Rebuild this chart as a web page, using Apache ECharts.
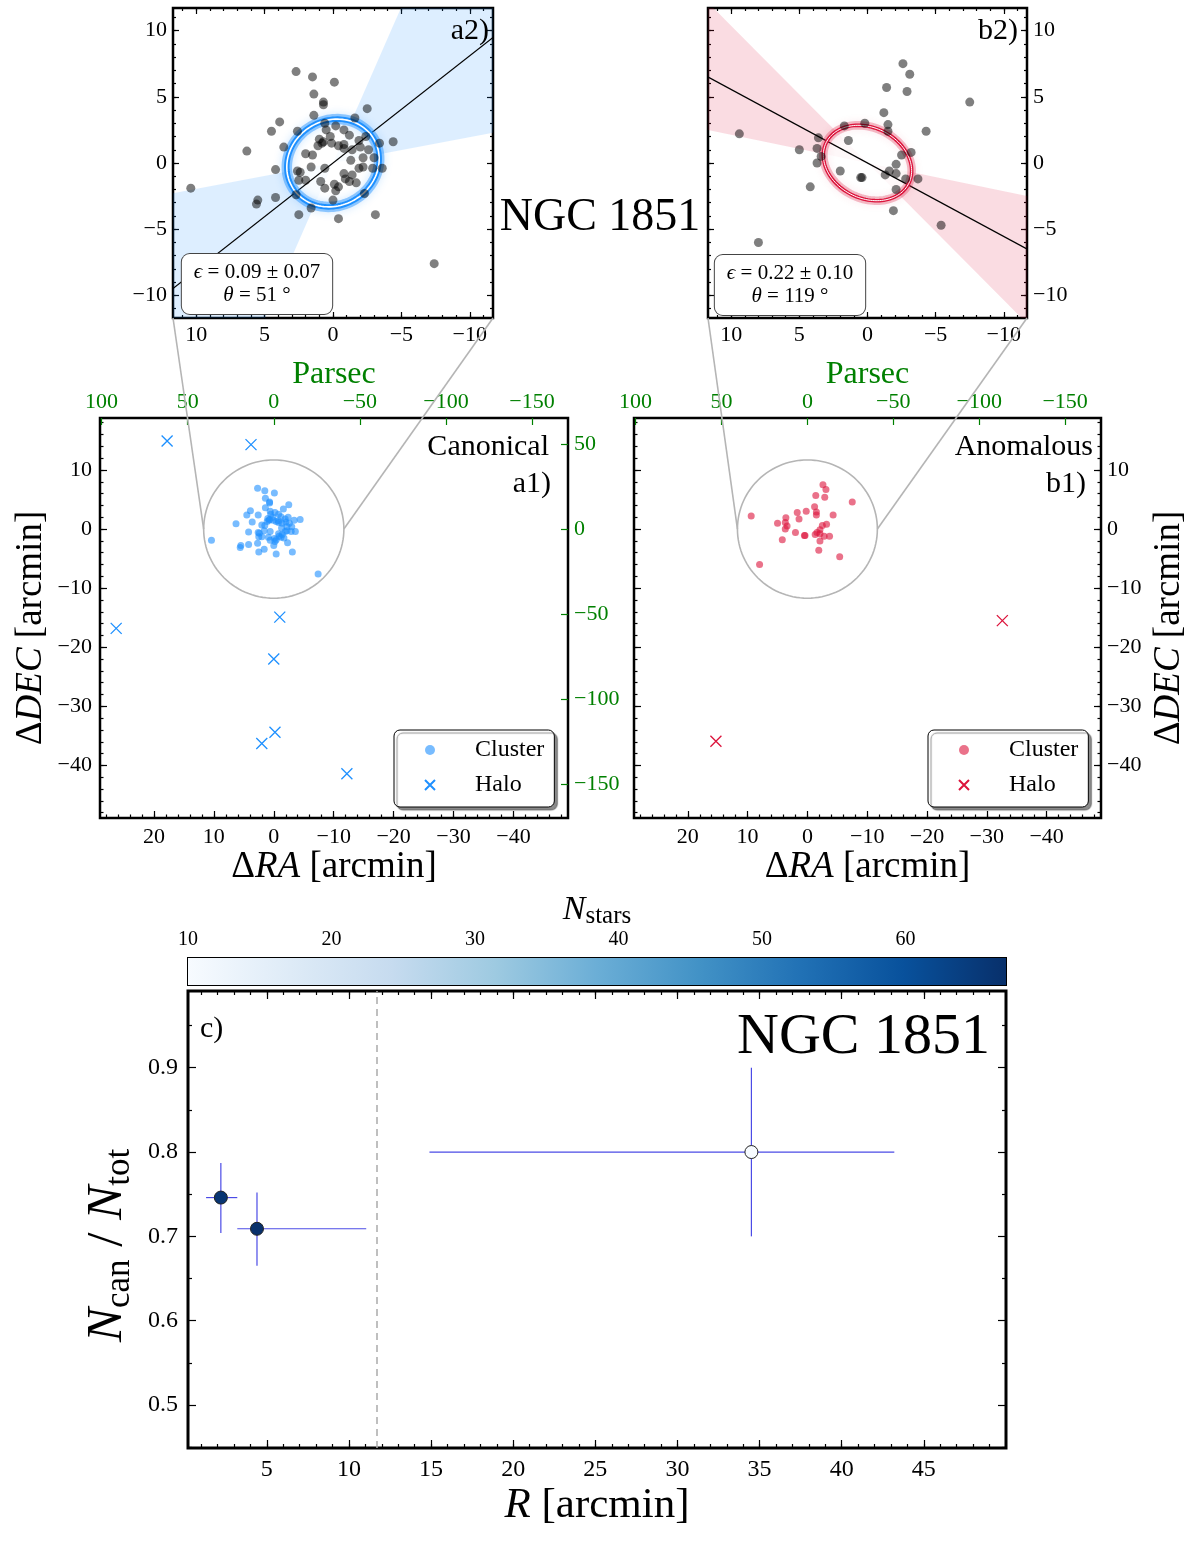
<!DOCTYPE html>
<html><head><meta charset="utf-8">
<script src="https://cdn.jsdelivr.net/npm/echarts@6/dist/echarts.min.js"></script>
<style>html,body{margin:0;padding:0;background:#fff}#c{width:1200px;height:1548px}</style>
</head><body><div id="c"></div><script>
// ================= DATA =================
// Cluster members (ΔRA, ΔDEC) in arcmin
const canonicalCluster = [[2.7,6.9],[1.5,6.5],[-0.1,6.1],[1.4,5.2],[0.7,4.6],[0.7,4.4],[-2.5,4.1],[1.4,3.6],[3.9,3.1],[0.6,3.0],[4.5,2.4],[2.6,2.4],[-1.6,3.4],[-0.2,2.8],[-0.8,2.5],[0.5,2.5],[-1.2,2.1],[-2.4,2.0],[-3.4,1.5],[-4.4,1.6],[3.6,1.2],[6.3,0.9],[1.0,1.8],[0.2,2.0],[0.8,1.5],[0.1,1.5],[1.1,1.3],[-0.4,1.3],[-0.8,1.4],[-1.9,1.7],[-2.0,1.2],[1.5,0.6],[2.0,0.7],[-0.8,1.1],[-1.4,1.0],[-2.6,1.0],[-1.3,0.2],[-2.2,0.4],[-3.0,0.4],[1.6,-0.3],[0.6,-0.4],[-1.9,-0.4],[4.2,-0.5],[2.6,-0.6],[2.4,-0.7],[-0.8,-0.8],[-1.4,-0.9],[-2.2,-0.3],[-3.6,-0.4],[-2.9,-0.4],[2.0,-1.3],[2.5,-1.3],[0.9,-1.4],[-0.1,-1.6],[-0.4,-1.8],[-0.9,-1.2],[-1.2,-1.4],[-1.7,-1.5],[0.6,-1.9],[-0.2,-2.1],[-2.3,-2.3],[2.7,-2.4],[4.2,-2.6],[5.5,-2.8],[5.6,-3.1],[0.0,-2.8],[1.6,-3.4],[2.5,-3.9],[-0.4,-4.2],[-3.1,-3.9],[10.4,-1.9],[-7.4,-7.6],[0.7,1.6]];
const canonicalHalo = [[17.8,14.9],[3.8,14.3],[26.3,-16.8],[-1.0,-14.9],[0.0,-22.0],[-0.2,-34.4],[2.0,-36.3],[-12.2,-41.4]];
const anomalousCluster = [[-2.6,7.5],[-3.1,6.7],[-1.4,5.7],[-2.9,5.4],[-7.5,4.6],[-1.2,3.8],[0.2,3.0],[-1.5,2.9],[1.7,2.8],[-1.5,2.4],[-4.3,2.4],[9.4,2.2],[3.6,1.9],[1.4,1.7],[5.0,1.0],[3.7,1.1],[3.4,0.5],[-3.2,0.8],[-2.5,0.6],[3.7,0.0],[-2.1,-0.1],[2.0,-0.6],[-1.3,-0.9],[-2.1,-0.8],[-1.6,-0.6],[0.4,-1.1],[0.5,-1.1],[-2.8,-1.2],[-3.7,-1.2],[4.2,-1.8],[-2.1,-2.0],[-1.9,-3.6],[-5.4,-4.7],[8.0,-6.0]];
const anomalousHalo = [[-32.6,-15.5],[15.3,-35.9]];
// Ellipse fits
const fitCanonical = {theta: 51, dTheta: 28, eps: 0.09, epsErr: 0.07, semiMajor: 3.5};
const fitAnomalous = {theta: 119, dTheta: 17, eps: 0.22, epsErr: 0.10, semiMajor: 3.4};
// Panel c: canonical fraction vs radius
const binR       = [2.2, 4.4, 34.5];
const binRlo     = [1.3, 3.2, 14.9];
const binRhi     = [3.2, 11.05, 43.2];
const fracCan    = [0.746, 0.709, 0.800];
const fracCanLo  = [0.704, 0.665, 0.700];
const fracCanHi  = [0.787, 0.752, 0.900];
const nStars     = [66, 67, 10];
// Tick labels
const zoomTicks = [10, 5, 0, -5, -10];
const raTicks = [20, 10, 0, -10, -20, -30, -40];
const decTicks = [10, 0, -10, -20, -30, -40];
const pcTicksX = [100, 50, 0, -50, -100, -150];
const pcTicksY = [50, 0, -50, -100, -150];
const rTicks = [5, 10, 15, 20, 25, 30, 35, 40, 45];
const fracTicks = [0.5, 0.6, 0.7, 0.8, 0.9];
const nStarTicks = [10, 20, 30, 40, 50, 60];
// constants
const PC_PER_ARCMIN = 3.48;
const R_ZOOM = 11.7;
const WIDE_X = [-49.1, 29.0], WIDE_Y = [-48.9, 18.8];
const R_LIM = [0.2, 50], FRAC_LIM = [0.449, 0.991];
const BLUES = ['#f7fbff','#deebf7','#c6dbef','#9ecae1','#6baed6','#4292c6','#2171b5','#08519c','#08306b'];
const nMin = Math.min(...nStars), nMax = Math.max(...nStars);

// ================= HELPERS =================
const FONT = 'Liberation Serif';
const GREEN = '#008000';
const CAN = '#1e90ff', ANO = '#dc143c';
const xAxes = [], yAxes = [];
const minus = v => String(v).replace('-', '\u2212');
function span(a, b, s) { const o = []; for (let v = a; v <= b + 1e-9; v += s) o.push(+v.toFixed(4)); return o; }
function axis(list, grid, pos, lim, inverse, ticks, len, opts) {
  opts = opts || {};
  const color = opts.color || '#000';
  const ax = {
    type: 'value', gridIndex: grid, position: pos, min: lim[0], max: lim[1], inverse: !!inverse,
    axisLine: {show: false, onZero: false},
    splitLine: {show: false},
    axisTick: {show: len > 0, inside: true, length: len, customValues: ticks, lineStyle: {color: color, width: opts.tw || 1.2}},
    axisLabel: {show: !!opts.labels, customValues: ticks, color: color, fontFamily: FONT, fontSize: opts.fs || 22,
      margin: opts.margin != null ? opts.margin : 8, formatter: opts.fmt || minus, hideOverlap: false}
  };
  if (opts.name) {
    ax.name = opts.name; ax.nameLocation = 'middle'; ax.nameGap = opts.nameGap; ax.nameRotate = opts.nameRotate || 0;
    ax.nameTextStyle = Object.assign({color: color, fontFamily: FONT, fontSize: opts.nfs || 34}, opts.nts || {});
  }
  list.push(ax);
  return list.length - 1;
}
function richSet(size, subSize, off) {
  const H = 2 * off + subSize;
  return {
    u: {fontFamily: FONT, fontSize: size, lineHeight: H, verticalAlign: 'middle'},
    i: {fontFamily: FONT, fontSize: size, fontStyle: 'italic', lineHeight: H, verticalAlign: 'middle'},
    s: {fontFamily: FONT, fontSize: subSize, lineHeight: subSize, verticalAlign: 'bottom'}
  };
}
const DEC_NAME = '{u|Δ}{i|DEC}{u| [arcmin]}';
const RA_NAME = '{u|Δ}{i|RA}{u| [arcmin]}';
const richName = {u: {fontFamily: FONT, fontSize: 37}, i: {fontFamily: FONT, fontSize: 37, fontStyle: 'italic'}};

// ---- a2 (grid 0) ----
const ZL = [-R_ZOOM, R_ZOOM];
const zMinor = span(-11, 11, 1);
const A2X = axis(xAxes, 0, 'bottom', ZL, true, zoomTicks, 6, {labels: true, margin: 6});
axis(xAxes, 0, 'bottom', ZL, true, zMinor, 3);
axis(xAxes, 0, 'top', ZL, true, zoomTicks, 6);
axis(xAxes, 0, 'top', ZL, true, zMinor, 3);
const A2Y = axis(yAxes, 0, 'left', ZL, false, zoomTicks, 6, {labels: true, margin: 6});
axis(yAxes, 0, 'left', ZL, false, zMinor, 3);
axis(yAxes, 0, 'right', ZL, false, zoomTicks, 6);
axis(yAxes, 0, 'right', ZL, false, zMinor, 3);
// ---- b2 (grid 1) ----
const B2X = axis(xAxes, 1, 'bottom', ZL, true, zoomTicks, 6, {labels: true, margin: 6});
axis(xAxes, 1, 'bottom', ZL, true, zMinor, 3);
axis(xAxes, 1, 'top', ZL, true, zoomTicks, 6);
axis(xAxes, 1, 'top', ZL, true, zMinor, 3);
const B2Y = axis(yAxes, 1, 'right', ZL, false, zoomTicks, 6, {labels: true, margin: 6});
axis(yAxes, 1, 'right', ZL, false, zMinor, 3);
axis(yAxes, 1, 'left', ZL, false, zoomTicks, 6);
axis(yAxes, 1, 'left', ZL, false, zMinor, 3);
// ---- a1 (grid 2) / b1 (grid 3) ----
const PCX = WIDE_X.map(v => v * PC_PER_ARCMIN), PCY = WIDE_Y.map(v => v * PC_PER_ARCMIN);
const raMinor = span(-48, 28, 2), decMinor = span(-48, 18, 2);
const A1X = axis(xAxes, 2, 'bottom', WIDE_X, true, raTicks, 7, {labels: true, margin: 8, name: RA_NAME, nameGap: 28, nts: {rich: richName}});
axis(xAxes, 2, 'bottom', WIDE_X, true, raMinor, 3.5);
axis(xAxes, 2, 'top', PCX, true, pcTicksX, 7, {labels: true, color: GREEN, margin: 5, name: 'Parsec', nameGap: 26, nfs: 32});
const A1Y = axis(yAxes, 2, 'left', WIDE_Y, false, decTicks, 7, {labels: true, margin: 8, name: DEC_NAME, nameGap: 50, nameRotate: 90,
  nts: {rich: richName, padding: [0, 20, 0, 0]}});
axis(yAxes, 2, 'left', WIDE_Y, false, decMinor, 3.5);
axis(yAxes, 2, 'right', PCY, false, pcTicksY, 7, {labels: true, color: GREEN, margin: 6});

const B1X = axis(xAxes, 3, 'bottom', WIDE_X, true, raTicks, 7, {labels: true, margin: 8, name: RA_NAME, nameGap: 28, nts: {rich: richName}});
axis(xAxes, 3, 'bottom', WIDE_X, true, raMinor, 3.5);
axis(xAxes, 3, 'top', PCX, true, pcTicksX, 7, {labels: true, color: GREEN, margin: 5, name: 'Parsec', nameGap: 26, nfs: 32});
const B1Y = axis(yAxes, 3, 'right', WIDE_Y, false, decTicks, 7, {labels: true, margin: 6, name: DEC_NAME, nameGap: 50, nameRotate: 90,
  nts: {rich: richName, padding: [0, 20, 0, 0]}});
axis(yAxes, 3, 'right', WIDE_Y, false, decMinor, 3.5);
axis(yAxes, 3, 'left', WIDE_Y, false, decTicks, 7);
axis(yAxes, 3, 'left', WIDE_Y, false, decMinor, 3.5);
// ---- colorbar (grid 4) ----
const CBX = axis(xAxes, 4, 'top', [nMin, nMax], false, nStarTicks, 6, {labels: true, fs: 20, margin: 8,
  name: '{i|N}{s|stars}', nameGap: 28, nts: {rich: richSet(34, 25, 7)}});
const CBY = yAxes.push({type: 'value', gridIndex: 4, min: 0, max: 1, show: false, splitLine: {show: false}}) - 1;
// ---- c (grid 5) ----
const CX = axis(xAxes, 5, 'bottom', R_LIM, false, rTicks, 8, {labels: true, fs: 24, margin: 10,
  name: '{i|R}{u| [arcmin]}', nameGap: 36, nts: {rich: {u: {fontFamily: FONT, fontSize: 43}, i: {fontFamily: FONT, fontSize: 43, fontStyle: 'italic'}}}});
axis(xAxes, 5, 'bottom', R_LIM, false, span(1, 49, 1), 4);
axis(xAxes, 5, 'top', R_LIM, false, rTicks, 8);
axis(xAxes, 5, 'top', R_LIM, false, span(1, 49, 1), 4);
const CY = axis(yAxes, 5, 'left', FRAC_LIM, false, fracTicks, 8, {labels: true, fs: 24, margin: 10, fmt: v => v.toFixed(1),
  name: '{i|N}{s|can}{u| / }{i|N}{s|tot}', nameGap: 40, nameRotate: 90, nts: {rich: richSet(51, 35, 12), padding: [0, 52, 0, 0]}});
axis(yAxes, 5, 'left', FRAC_LIM, false, span(0.45, 0.95, 0.1), 4);
axis(yAxes, 5, 'right', FRAC_LIM, false, fracTicks, 8);
axis(yAxes, 5, 'right', FRAC_LIM, false, span(0.45, 0.95, 0.1), 4);

// ================= RENDERERS =================
const rad = d => d * Math.PI / 180;
const dirOf = t => [-Math.sin(rad(t)), Math.cos(rad(t))];
function fitRenderer(fit, wedgeCol, ringCol, glowCol, ringW, innerW) {
  return function (params, api) {
    const cs = params.coordSys;
    const c = api.coord([0, 0]);
    const far = 40;
    const P = (t, r) => { const d = dirOf(t); return api.coord([d[0] * r, d[1] * r]); };
    const t1 = fit.theta - fit.dTheta, t2 = fit.theta + fit.dTheta;
    const u = dirOf(fit.theta), v = [-u[1], u[0]];
    const a = fit.semiMajor, b = a * (1 - fit.eps);
    const ell = [];
    for (let k = 0; k <= 120; k++) {
      const p = rad(k * 3);
      ell.push(api.coord([a * Math.cos(p) * u[0] + b * Math.sin(p) * v[0], a * Math.cos(p) * u[1] + b * Math.sin(p) * v[1]]));
    }
    const l1 = P(fit.theta, far), l2 = P(fit.theta + 180, far);
    return {
      type: 'group',
      clipPath: {type: 'rect', shape: {x: cs.x, y: cs.y, width: cs.width, height: cs.height}},
      children: [
        {type: 'polygon', shape: {points: [c, P(t1, far), P(t2, far)]}, style: {fill: wedgeCol}},
        {type: 'polygon', shape: {points: [c, P(t1 + 180, far), P(t2 + 180, far)]}, style: {fill: wedgeCol}},
        {type: 'polygon', shape: {points: ell}, style: {fill: 'rgba(255,255,255,0.8)'}},
        {type: 'line', shape: {x1: l1[0], y1: l1[1], x2: l2[0], y2: l2[1]}, style: {stroke: '#000', lineWidth: 1.3}},
        {type: 'polygon', shape: {points: ell}, style: {fill: 'none', stroke: glowCol, lineWidth: ringW + 5, shadowBlur: 8, shadowColor: glowCol}},
        {type: 'polygon', shape: {points: ell}, style: {fill: 'none', stroke: ringCol, lineWidth: ringW}},
        {type: 'polygon', shape: {points: ell}, style: {fill: 'none', stroke: '#fff', lineWidth: innerW}}
      ]
    };
  };
}
function circleRenderer(params, api) {
  const pts = [];
  for (let k = 0; k <= 120; k++) { const p = rad(k * 3); pts.push(api.coord([R_ZOOM * Math.cos(p), R_ZOOM * Math.sin(p)])); }
  return {type: 'polyline', shape: {points: pts}, style: {fill: 'none', stroke: '#b5b5b5', lineWidth: 1.6}};
}
const XSYM = 'path://M0,0L10,10M0,10L10,0';

const series = [];
series.push({type: 'custom', xAxisIndex: A2X, yAxisIndex: A2Y, clip: true, silent: true, data: [[0, 0]],
  renderItem: fitRenderer(fitCanonical, 'rgba(30,144,255,0.15)', CAN, 'rgba(30,144,255,0.45)', 5.5, 1.6)});
series.push({type: 'scatter', xAxisIndex: A2X, yAxisIndex: A2Y, data: canonicalCluster, symbolSize: 9, silent: true,
  itemStyle: {color: 'rgba(0,0,0,0.5)', opacity: 1}});
series.push({type: 'custom', xAxisIndex: B2X, yAxisIndex: B2Y, clip: true, silent: true, data: [[0, 0]],
  renderItem: fitRenderer(fitAnomalous, 'rgba(220,20,60,0.15)', ANO, 'rgba(220,20,60,0.28)', 3.6, 1.0)});
series.push({type: 'scatter', xAxisIndex: B2X, yAxisIndex: B2Y, data: anomalousCluster, symbolSize: 9, silent: true,
  itemStyle: {color: 'rgba(0,0,0,0.5)', opacity: 1}});
series.push({type: 'custom', xAxisIndex: A1X, yAxisIndex: A1Y, silent: true, data: [[0, 0]], renderItem: circleRenderer});
series.push({type: 'scatter', name: 'Cluster (canonical)', xAxisIndex: A1X, yAxisIndex: A1Y, data: canonicalCluster, symbolSize: 7,
  itemStyle: {color: CAN, opacity: 0.6}});
series.push({type: 'scatter', name: 'Halo (canonical)', xAxisIndex: A1X, yAxisIndex: A1Y, data: canonicalHalo, symbol: XSYM, symbolSize: 11,
  itemStyle: {color: 'rgba(0,0,0,0)', borderColor: CAN, borderWidth: 1.3, opacity: 1}});
series.push({type: 'custom', xAxisIndex: B1X, yAxisIndex: B1Y, silent: true, data: [[0, 0]], renderItem: circleRenderer});
series.push({type: 'scatter', name: 'Cluster (anomalous)', xAxisIndex: B1X, yAxisIndex: B1Y, data: anomalousCluster, symbolSize: 7,
  itemStyle: {color: ANO, opacity: 0.6}});
series.push({type: 'scatter', name: 'Halo (anomalous)', xAxisIndex: B1X, yAxisIndex: B1Y, data: anomalousHalo, symbol: XSYM, symbolSize: 11,
  itemStyle: {color: 'rgba(0,0,0,0)', borderColor: ANO, borderWidth: 1.3, opacity: 1}});
// colorbar
series.push({type: 'custom', xAxisIndex: CBX, yAxisIndex: CBY, silent: true, data: [[nMin, nMax]],
  renderItem: function (params, api) {
    const p0 = api.coord([api.value(0), 0]), p1 = api.coord([api.value(1), 1]);
    return {type: 'rect', shape: {x: p0[0], y: p1[1], width: p1[0] - p0[0], height: p0[1] - p1[1]},
      style: {fill: new echarts.graphic.LinearGradient(0, 0, 1, 0, BLUES.map((c, i) => ({offset: i / (BLUES.length - 1), color: c})))}};
  }});
// error bars
series.push({type: 'custom', xAxisIndex: CX, yAxisIndex: CY, silent: true,
  data: binR.map((r, i) => [r, fracCan[i], binRlo[i], binRhi[i], fracCanLo[i], fracCanHi[i]]),
  renderItem: function (params, api) {
    const x = api.value(0), y = api.value(1);
    const a = api.coord([api.value(2), y]), b = api.coord([api.value(3), y]);
    const c = api.coord([x, api.value(4)]), d = api.coord([x, api.value(5)]);
    const st = {stroke: '#4b4be6', lineWidth: 1.2};
    return {type: 'group', children: [
      {type: 'line', shape: {x1: a[0], y1: a[1], x2: b[0], y2: b[1]}, style: st},
      {type: 'line', shape: {x1: c[0], y1: c[1], x2: d[0], y2: d[1]}, style: st}]};
  }});
const C_SCATTER = series.length;
series.push({type: 'scatter', xAxisIndex: CX, yAxisIndex: CY, silent: true,
  data: binR.map((r, i) => [r, fracCan[i], nStars[i]]), encode: {x: 0, y: 1}, symbolSize: 13,
  itemStyle: {borderColor: '#222', borderWidth: 1, opacity: 1},
  markLine: {silent: true, symbol: 'none', label: {show: false},
    lineStyle: {type: [7, 5], color: '#aaaaaa', width: 1.5}, data: [{xAxis: R_ZOOM}]}});

const legendBase = {orient: 'vertical', selectedMode: false, itemWidth: 10, itemHeight: 10, itemGap: 9,
  padding: [7, 10, 9, 30], backgroundColor: '#fff', borderColor: '#000', borderWidth: 1, borderRadius: 6,
  shadowColor: 'rgba(0,0,0,0.45)', shadowBlur: 1, shadowOffsetX: 3, shadowOffsetY: 3,
  formatter: n => n.split(' ')[0],
  textStyle: {fontFamily: FONT, fontSize: 24, lineHeight: 26, color: '#000', padding: [0, 0, 0, 35]}};

const option = {
  animation: false,
  backgroundColor: '#fff',
  textStyle: {fontFamily: FONT},
  grid: [
    {left: 173, top: 8, width: 320, height: 310},
    {left: 708, top: 8, width: 319, height: 310},
    {left: 100, top: 418, width: 468, height: 400},
    {left: 634, top: 418, width: 467, height: 400},
    {left: 188, top: 958, width: 818, height: 27, borderWidth: 2},
    {left: 188, top: 991, width: 818, height: 457, borderWidth: 3}
  ].map(g => Object.assign({show: true, borderColor: '#000', borderWidth: 2.5, backgroundColor: 'rgba(0,0,0,0)'}, g)),
  xAxis: xAxes,
  yAxis: yAxes,
  visualMap: [{show: false, type: 'continuous', dimension: 2, seriesIndex: C_SCATTER, min: nMin, max: nMax, inRange: {color: BLUES}}],
  legend: [
    Object.assign({left: 394, top: 730, data: ['Cluster (canonical)', 'Halo (canonical)']}, legendBase),
    Object.assign({left: 928, top: 730, data: ['Cluster (anomalous)', 'Halo (anomalous)']}, legendBase)
  ],
  series: series
};
const chart = echarts.init(document.getElementById('c'), null, {renderer: 'canvas'});
chart.setOption(option);

// ================= ANNOTATIONS =================
function px(xi, yi, pt) { return chart.convertToPixel({xAxisIndex: xi, yAxisIndex: yi}, pt); }
const graphics = [];
[[A2X, A2Y, A1X, A1Y], [B2X, B2Y, B1X, B1Y]].forEach(function (q) {
  const bl = px(q[0], q[1], [R_ZOOM, -R_ZOOM]), br = px(q[0], q[1], [-R_ZOOM, -R_ZOOM]);
  const cl = px(q[2], q[3], [R_ZOOM, 0]), cr = px(q[2], q[3], [-R_ZOOM, 0]);
  graphics.push({type: 'line', z: 1, silent: true, shape: {x1: bl[0], y1: bl[1], x2: cl[0], y2: cl[1]}, style: {stroke: '#b5b5b5', lineWidth: 1.6}});
  graphics.push({type: 'line', z: 1, silent: true, shape: {x1: br[0], y1: br[1], x2: cr[0], y2: cr[1]}, style: {stroke: '#b5b5b5', lineWidth: 1.6}});
});
function txt(x, y, text, size, align, extra) {
  return {type: 'text', x: x, y: y, z: 50, silent: true,
    style: Object.assign({text: text, fontFamily: FONT, fontSize: size, fill: '#000', align: align || 'center', verticalAlign: 'middle'}, extra || {})};
}
function fitBox(x, y, fit) {
  return txt(x, y, '{e|ϵ} = ' + fit.eps.toFixed(2) + ' ± ' + fit.epsErr.toFixed(2) + '\n{e|θ} = ' + fit.theta + ' °', 21, 'center', {
    lineHeight: 23, backgroundColor: '#fff', borderColor: '#444', borderWidth: 1, borderRadius: 8, padding: [7, 12, 7, 12],
    rich: {e: {fontFamily: FONT, fontSize: 21, fontStyle: 'italic', lineHeight: 23}}});
}
graphics.push(txt(600, 218, 'NGC 1851', 46));
graphics.push(txt(489, 31, 'a2)', 30, 'right'));
graphics.push(txt(1018, 31, 'b2)', 30, 'right'));
graphics.push(fitBox(257, 284, fitCanonical));
graphics.push(fitBox(790, 285, fitAnomalous));
graphics.push(txt(549, 447, 'Canonical', 30, 'right'));
graphics.push(txt(551, 484, 'a1)', 30, 'right'));
graphics.push(txt(1093, 447, 'Anomalous', 30, 'right'));
graphics.push(txt(1086, 484, 'b1)', 30, 'right'));
graphics.push(txt(200, 1029, 'c)', 30, 'left'));
graphics.push(txt(990, 1038, 'NGC 1851', 58, 'right'));
chart.setOption({graphic: graphics});
</script></body></html>
